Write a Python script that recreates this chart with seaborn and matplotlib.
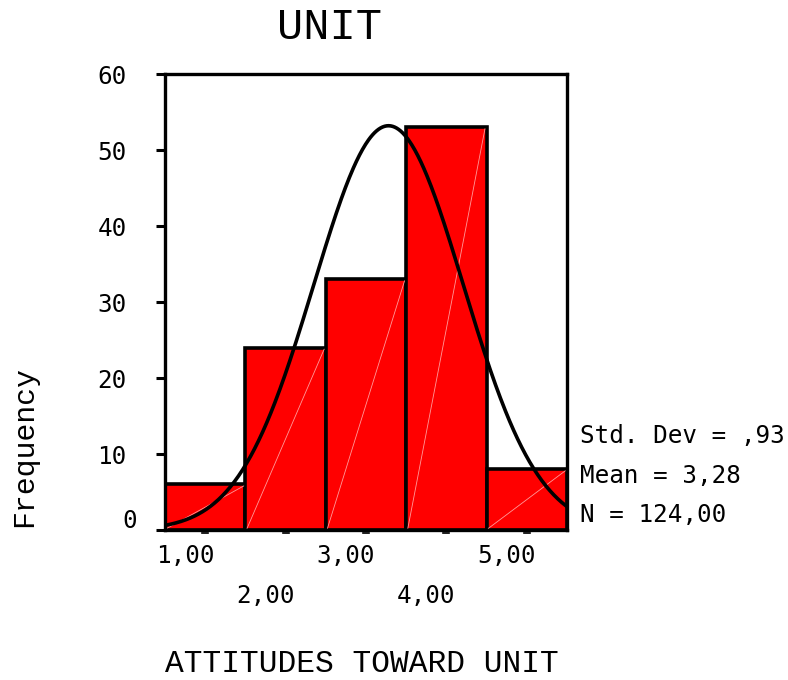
import numpy as np
import pandas as pd
import matplotlib
matplotlib.use("Agg")
import matplotlib.pyplot as plt
import matplotlib.transforms as mtransforms
import seaborn as sns

# Histogram of attitude scores (bin width 1)
scores = np.array([1, 2, 3, 4, 5])
frequencies = np.array([6, 24, 33, 53, 8])
tick_labels = ["1,00", "2,00", "3,00", "4,00", "5,00"]
y_ticks = [0, 10, 20, 30, 40, 50, 60]

# Summary statistics shown next to the plot
std_dev = 0.93
mean = 3.28
n_total = 124
stats_lines = ["Std. Dev = ,93", "Mean = 3,28", "N = 124,00"]

title = "UNIT"
x_title = "ATTITUDES TOWARD UNIT"
y_title = "Frequency"

sns.set_theme(style="white")
plt.rcParams["font.family"] = ["DejaVu Sans Mono", "DejaVu Sans"]
plt.rcParams["text.color"] = "black"
plt.rcParams["xtick.color"] = "black"
plt.rcParams["ytick.color"] = "black"

W, H = 788, 680
fig = plt.figure(figsize=(W / 100, H / 100), dpi=100)
ax = fig.add_axes([165 / W, 1 - 530 / H, (567 - 165) / W, (530 - 74) / H])

bin_width = 1.0
edges = [float(s) - bin_width / 2 for s in scores] + [float(scores[-1]) + bin_width / 2]
df = pd.DataFrame({"score": scores, "freq": frequencies})

sns.histplot(data=df, x="score", weights="freq", bins=edges, stat="count",
             color="#ff0000", alpha=1, edgecolor="black", linewidth=2.6,
             ax=ax, zorder=2)

# faint diagonal seams across each bar
for left, f in zip(edges[:-1], frequencies):
    ax.plot([left + 0.02, left + bin_width - 0.02], [0.2, f - 0.2],
            color="#ff9a9a", lw=0.6, zorder=2.5)

# fitted normal curve scaled to counts
xs = np.linspace(edges[0], edges[-1], 400)
ys = n_total * bin_width / (std_dev * np.sqrt(2 * np.pi)) * np.exp(-0.5 * ((xs - mean) / std_dev) ** 2)
sns.lineplot(x=xs, y=ys, color="black", lw=2.6, ax=ax, zorder=3)

ax.set_xlim(edges[0], edges[-1])
ax.set_ylim(y_ticks[0], y_ticks[-1])
ax.set_xlabel("")
ax.set_ylabel("")

for sp in ax.spines.values():
    sp.set_visible(True)
    sp.set_color("black")
    sp.set_linewidth(2.4)
    sp.set_zorder(4)

ax.set_yticks(y_ticks)
ax.set_yticklabels([str(v) for v in y_ticks])
ax.tick_params(axis="y", left=True, direction="out", length=6.5, width=2.2,
               color="black", labelcolor="black", pad=21, labelsize=17.5)
ax.set_xticks(scores)
ax.set_xticklabels([])
ax.tick_params(axis="x", bottom=True, direction="out", length=3, width=5.5,
               color="#222222", pad=0)

# nudge the zero label up and to the right
zero_lbl = ax.yaxis.get_major_ticks()[0].label1
zero_lbl.set_transform(zero_lbl.get_transform() +
                       mtransforms.ScaledTranslation(10 / 100, 12 / 100, fig.dpi_scale_trans))

# staggered x tick labels
for i, (v, lab) in enumerate(zip(scores, tick_labels)):
    dy = -33 if i % 2 == 0 else -73
    ax.annotate(lab, xy=(v, 0), xycoords=("data", "axes fraction"),
                xytext=(-20, dy), textcoords="offset pixels",
                ha="center", va="baseline", fontsize=17.5, color="black",
                annotation_clip=False)

fig.text(329 / W, 1 - 39 / H, title, ha="center", va="baseline",
         fontsize=31.5, family=["Liberation Mono", "DejaVu Sans Mono"], color="black")
fig.text(362 / W, 1 - 672 / H, x_title, ha="center", va="baseline",
         fontsize=22.5, family=["Liberation Mono", "DejaVu Sans Mono"], color="black")
fig.text(24 / W, 1 - 447 / H, y_title, ha="center", va="center", rotation=90,
         fontsize=21.5, family=["Liberation Mono", "DejaVu Sans Mono"], color="black")

for i, line in enumerate(stats_lines):
    fig.text(580 / W, 1 - (443 + 39.5 * i) / H, line, ha="left", va="baseline",
             fontsize=17.5, color="black")

fig.savefig("out.png", dpi=100, facecolor="white")
